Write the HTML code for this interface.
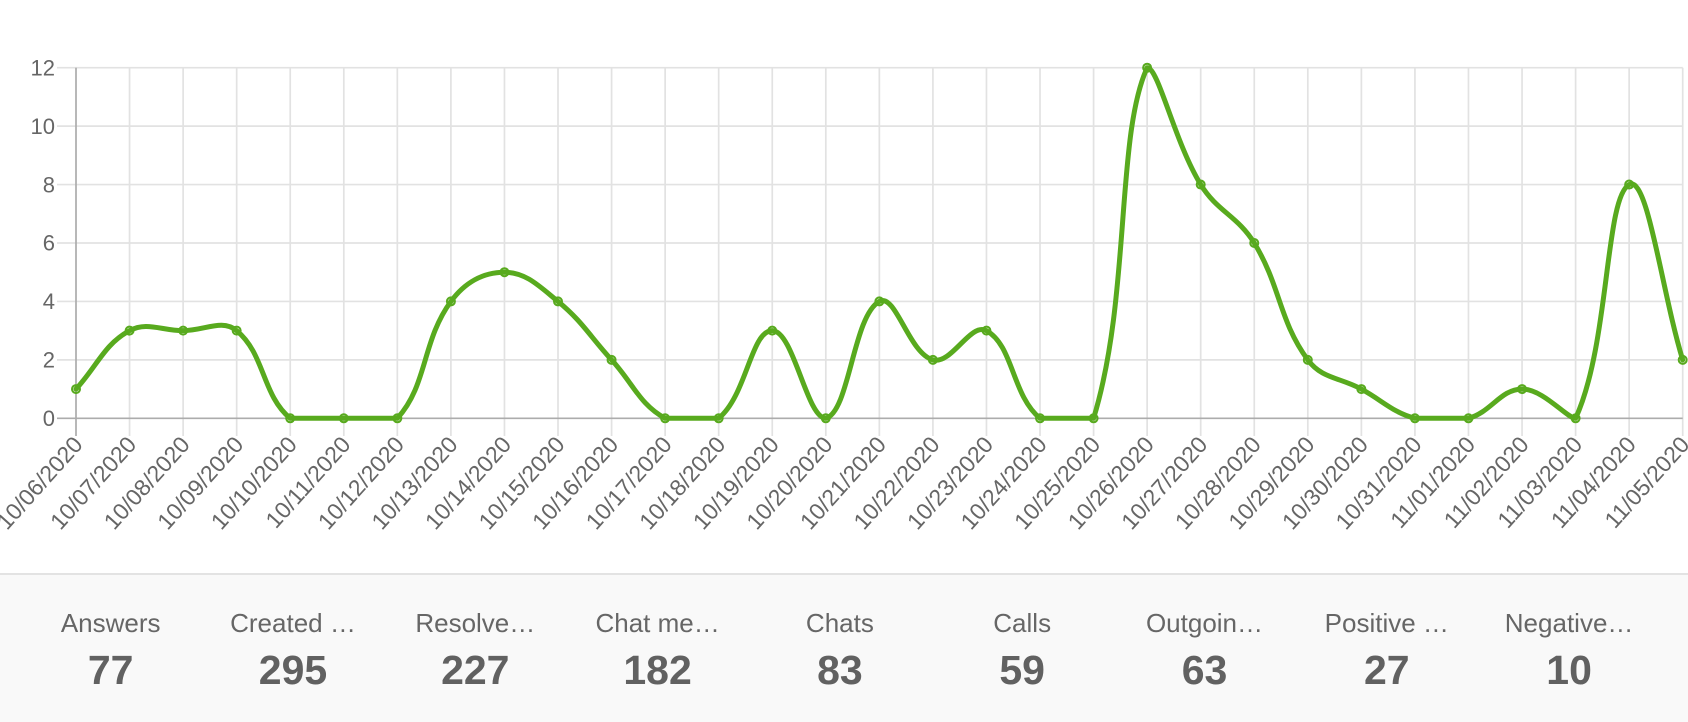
<!DOCTYPE html>
<html><head><meta charset="utf-8"><style>
html,body{margin:0;padding:0;background:#fff;}
body{width:1688px;height:720px;overflow:hidden;position:relative;font-family:"Liberation Sans",Arial,sans-serif;}
svg{position:absolute;left:0;top:0;}
.stats{position:absolute;left:0;top:573px;width:1688px;height:147px;background:#f9f9f9;border-top:2px solid #e3e3e3;}
.lab{position:absolute;top:33px;width:180px;margin-left:-90px;text-align:center;color:#666;font-size:26px;line-height:30px;white-space:nowrap;}
.num{position:absolute;top:72px;width:180px;margin-left:-90px;text-align:center;color:#616161;font-size:41px;font-weight:bold;line-height:46px;}
</style></head><body>
<svg width="1688" height="573" viewBox="0 0 1688 573" xmlns="http://www.w3.org/2000/svg">
<g stroke="#e2e2e2" stroke-width="1.7">
<line x1="57" y1="67.7" x2="1682.7" y2="67.7"/>
<line x1="57" y1="126.13" x2="1682.7" y2="126.13"/>
<line x1="57" y1="184.56" x2="1682.7" y2="184.56"/>
<line x1="57" y1="243.0" x2="1682.7" y2="243.0"/>
<line x1="57" y1="301.43" x2="1682.7" y2="301.43"/>
<line x1="57" y1="359.87" x2="1682.7" y2="359.87"/>
<line x1="129.56" y1="67.7" x2="129.56" y2="436"/>
<line x1="183.11" y1="67.7" x2="183.11" y2="436"/>
<line x1="236.67" y1="67.7" x2="236.67" y2="436"/>
<line x1="290.23" y1="67.7" x2="290.23" y2="436"/>
<line x1="343.79" y1="67.7" x2="343.79" y2="436"/>
<line x1="397.34" y1="67.7" x2="397.34" y2="436"/>
<line x1="450.90" y1="67.7" x2="450.90" y2="436"/>
<line x1="504.46" y1="67.7" x2="504.46" y2="436"/>
<line x1="558.01" y1="67.7" x2="558.01" y2="436"/>
<line x1="611.57" y1="67.7" x2="611.57" y2="436"/>
<line x1="665.13" y1="67.7" x2="665.13" y2="436"/>
<line x1="718.68" y1="67.7" x2="718.68" y2="436"/>
<line x1="772.24" y1="67.7" x2="772.24" y2="436"/>
<line x1="825.80" y1="67.7" x2="825.80" y2="436"/>
<line x1="879.36" y1="67.7" x2="879.36" y2="436"/>
<line x1="932.91" y1="67.7" x2="932.91" y2="436"/>
<line x1="986.47" y1="67.7" x2="986.47" y2="436"/>
<line x1="1040.03" y1="67.7" x2="1040.03" y2="436"/>
<line x1="1093.58" y1="67.7" x2="1093.58" y2="436"/>
<line x1="1147.14" y1="67.7" x2="1147.14" y2="436"/>
<line x1="1200.70" y1="67.7" x2="1200.70" y2="436"/>
<line x1="1254.25" y1="67.7" x2="1254.25" y2="436"/>
<line x1="1307.81" y1="67.7" x2="1307.81" y2="436"/>
<line x1="1361.37" y1="67.7" x2="1361.37" y2="436"/>
<line x1="1414.93" y1="67.7" x2="1414.93" y2="436"/>
<line x1="1468.48" y1="67.7" x2="1468.48" y2="436"/>
<line x1="1522.04" y1="67.7" x2="1522.04" y2="436"/>
<line x1="1575.60" y1="67.7" x2="1575.60" y2="436"/>
<line x1="1629.15" y1="67.7" x2="1629.15" y2="436"/>
<line x1="1682.71" y1="67.7" x2="1682.71" y2="436"/>
</g>
<g stroke="#acacac" stroke-width="1.7">
<line x1="57" y1="418.3" x2="1682.7" y2="418.3"/>
<line x1="76" y1="67.7" x2="76" y2="436"/>
</g>
<g font-family="Liberation Sans, Arial, sans-serif" font-size="22" fill="#666" text-anchor="end">
<text x="55" y="67.7" dy="0.35em">12</text>
<text x="55" y="126.13" dy="0.35em">10</text>
<text x="55" y="184.56" dy="0.35em">8</text>
<text x="55" y="243.0" dy="0.35em">6</text>
<text x="55" y="301.43" dy="0.35em">4</text>
<text x="55" y="359.87" dy="0.35em">2</text>
<text x="55" y="418.3" dy="0.35em">0</text>
</g>
<g font-family="Liberation Sans, Arial, sans-serif" font-size="23" fill="#666" text-anchor="end">
<text transform="translate(78,440) rotate(-48)" dy="0.35em">10/06/2020</text>
<text transform="translate(131.56,440) rotate(-48)" dy="0.35em">10/07/2020</text>
<text transform="translate(185.11,440) rotate(-48)" dy="0.35em">10/08/2020</text>
<text transform="translate(238.67,440) rotate(-48)" dy="0.35em">10/09/2020</text>
<text transform="translate(292.23,440) rotate(-48)" dy="0.35em">10/10/2020</text>
<text transform="translate(345.79,440) rotate(-48)" dy="0.35em">10/11/2020</text>
<text transform="translate(399.34,440) rotate(-48)" dy="0.35em">10/12/2020</text>
<text transform="translate(452.90,440) rotate(-48)" dy="0.35em">10/13/2020</text>
<text transform="translate(506.46,440) rotate(-48)" dy="0.35em">10/14/2020</text>
<text transform="translate(560.01,440) rotate(-48)" dy="0.35em">10/15/2020</text>
<text transform="translate(613.57,440) rotate(-48)" dy="0.35em">10/16/2020</text>
<text transform="translate(667.13,440) rotate(-48)" dy="0.35em">10/17/2020</text>
<text transform="translate(720.68,440) rotate(-48)" dy="0.35em">10/18/2020</text>
<text transform="translate(774.24,440) rotate(-48)" dy="0.35em">10/19/2020</text>
<text transform="translate(827.80,440) rotate(-48)" dy="0.35em">10/20/2020</text>
<text transform="translate(881.36,440) rotate(-48)" dy="0.35em">10/21/2020</text>
<text transform="translate(934.91,440) rotate(-48)" dy="0.35em">10/22/2020</text>
<text transform="translate(988.47,440) rotate(-48)" dy="0.35em">10/23/2020</text>
<text transform="translate(1042.03,440) rotate(-48)" dy="0.35em">10/24/2020</text>
<text transform="translate(1095.58,440) rotate(-48)" dy="0.35em">10/25/2020</text>
<text transform="translate(1149.14,440) rotate(-48)" dy="0.35em">10/26/2020</text>
<text transform="translate(1202.70,440) rotate(-48)" dy="0.35em">10/27/2020</text>
<text transform="translate(1256.25,440) rotate(-48)" dy="0.35em">10/28/2020</text>
<text transform="translate(1309.81,440) rotate(-48)" dy="0.35em">10/29/2020</text>
<text transform="translate(1363.37,440) rotate(-48)" dy="0.35em">10/30/2020</text>
<text transform="translate(1416.93,440) rotate(-48)" dy="0.35em">10/31/2020</text>
<text transform="translate(1470.48,440) rotate(-48)" dy="0.35em">11/01/2020</text>
<text transform="translate(1524.04,440) rotate(-48)" dy="0.35em">11/02/2020</text>
<text transform="translate(1577.60,440) rotate(-48)" dy="0.35em">11/03/2020</text>
<text transform="translate(1631.15,440) rotate(-48)" dy="0.35em">11/04/2020</text>
<text transform="translate(1684.71,440) rotate(-48)" dy="0.35em">11/05/2020</text>
</g>
<path fill="none" stroke="#58aa1e" stroke-width="5" stroke-linejoin="round" stroke-linecap="round" d="M76,389.08
C97.42,365.71 103.99,344.60 129.56,330.65
C146.84,321.23 161.69,330.65 183.11,330.65
C204.53,330.65 221.99,318.63 236.67,330.65
C264.83,353.69 262.07,395.26 290.23,418.3
C304.91,418.3 322.37,418.3 343.79,418.3
C365.21,418.3 384.74,418.3 397.34,418.3
C427.59,385.30 421.84,341.06 450.90,301.43
C464.69,282.63 483.04,272.22 504.46,272.22
C525.88,272.22 539.37,286.18 558.01,301.43
C582.22,321.24 590.15,336.50 611.57,359.87
C632.99,383.24 639.56,404.35 665.13,418.3
C682.41,418.3 704.00,418.3 718.68,418.3
C746.84,395.26 750.82,330.65 772.24,330.65
C793.66,330.65 806.77,418.3 825.80,418.3
C849.61,411.80 852.86,315.89 879.36,301.43
C895.70,292.51 908.70,353.27 932.91,359.87
C951.55,364.95 970.51,321.94 986.47,330.65
C1013.35,345.32 1011.87,395.26 1040.03,418.3
C1054.71,418.3 1087.96,418.3 1093.58,418.3
C1130.80,296.47 1115.69,136.33 1147.14,67.7
C1158.54,67.7 1174.20,141.19 1200.70,184.56
C1217.04,211.31 1237.91,216.25 1254.25,243.0
C1280.75,286.37 1278.75,320.24 1307.81,359.87
C1321.60,378.67 1339.95,377.39 1361.37,389.08
C1382.79,400.77 1392.12,412.08 1414.93,418.3
C1434.96,418.3 1448.45,418.3 1468.48,418.3
C1491.29,412.08 1500.62,389.08 1522.04,389.08
C1543.46,389.08 1566.91,418.3 1575.60,418.3
C1609.76,343.76 1604.87,197.81 1629.15,184.56
C1647.71,174.43 1661.29,289.75 1682.71,359.87"/>
<g fill="rgba(90,168,32,0.2)" stroke="#58aa1e" stroke-width="2">
<circle cx="76" cy="389.08" r="4"/>
<circle cx="129.56" cy="330.65" r="4"/>
<circle cx="183.11" cy="330.65" r="4"/>
<circle cx="236.67" cy="330.65" r="4"/>
<circle cx="290.23" cy="418.3" r="4"/>
<circle cx="343.79" cy="418.3" r="4"/>
<circle cx="397.34" cy="418.3" r="4"/>
<circle cx="450.90" cy="301.43" r="4"/>
<circle cx="504.46" cy="272.22" r="4"/>
<circle cx="558.01" cy="301.43" r="4"/>
<circle cx="611.57" cy="359.87" r="4"/>
<circle cx="665.13" cy="418.3" r="4"/>
<circle cx="718.68" cy="418.3" r="4"/>
<circle cx="772.24" cy="330.65" r="4"/>
<circle cx="825.80" cy="418.3" r="4"/>
<circle cx="879.36" cy="301.43" r="4"/>
<circle cx="932.91" cy="359.87" r="4"/>
<circle cx="986.47" cy="330.65" r="4"/>
<circle cx="1040.03" cy="418.3" r="4"/>
<circle cx="1093.58" cy="418.3" r="4"/>
<circle cx="1147.14" cy="67.7" r="4"/>
<circle cx="1200.70" cy="184.56" r="4"/>
<circle cx="1254.25" cy="243.0" r="4"/>
<circle cx="1307.81" cy="359.87" r="4"/>
<circle cx="1361.37" cy="389.08" r="4"/>
<circle cx="1414.93" cy="418.3" r="4"/>
<circle cx="1468.48" cy="418.3" r="4"/>
<circle cx="1522.04" cy="389.08" r="4"/>
<circle cx="1575.60" cy="418.3" r="4"/>
<circle cx="1629.15" cy="184.56" r="4"/>
<circle cx="1682.71" cy="359.87" r="4"/>
</g>
</svg>
<div class="stats">
<div class="lab" style="left:110.7px">Answers</div><div class="num" style="left:110.7px">77</div>
<div class="lab" style="left:293px">Created …</div><div class="num" style="left:293px">295</div>
<div class="lab" style="left:475.3px">Resolve…</div><div class="num" style="left:475.3px">227</div>
<div class="lab" style="left:657.6px">Chat me…</div><div class="num" style="left:657.6px">182</div>
<div class="lab" style="left:839.9px">Chats</div><div class="num" style="left:839.9px">83</div>
<div class="lab" style="left:1022.2px">Calls</div><div class="num" style="left:1022.2px">59</div>
<div class="lab" style="left:1204.5px">Outgoin…</div><div class="num" style="left:1204.5px">63</div>
<div class="lab" style="left:1386.8px">Positive …</div><div class="num" style="left:1386.8px">27</div>
<div class="lab" style="left:1569.1px">Negative…</div><div class="num" style="left:1569.1px">10</div>
</div>
</body></html>
